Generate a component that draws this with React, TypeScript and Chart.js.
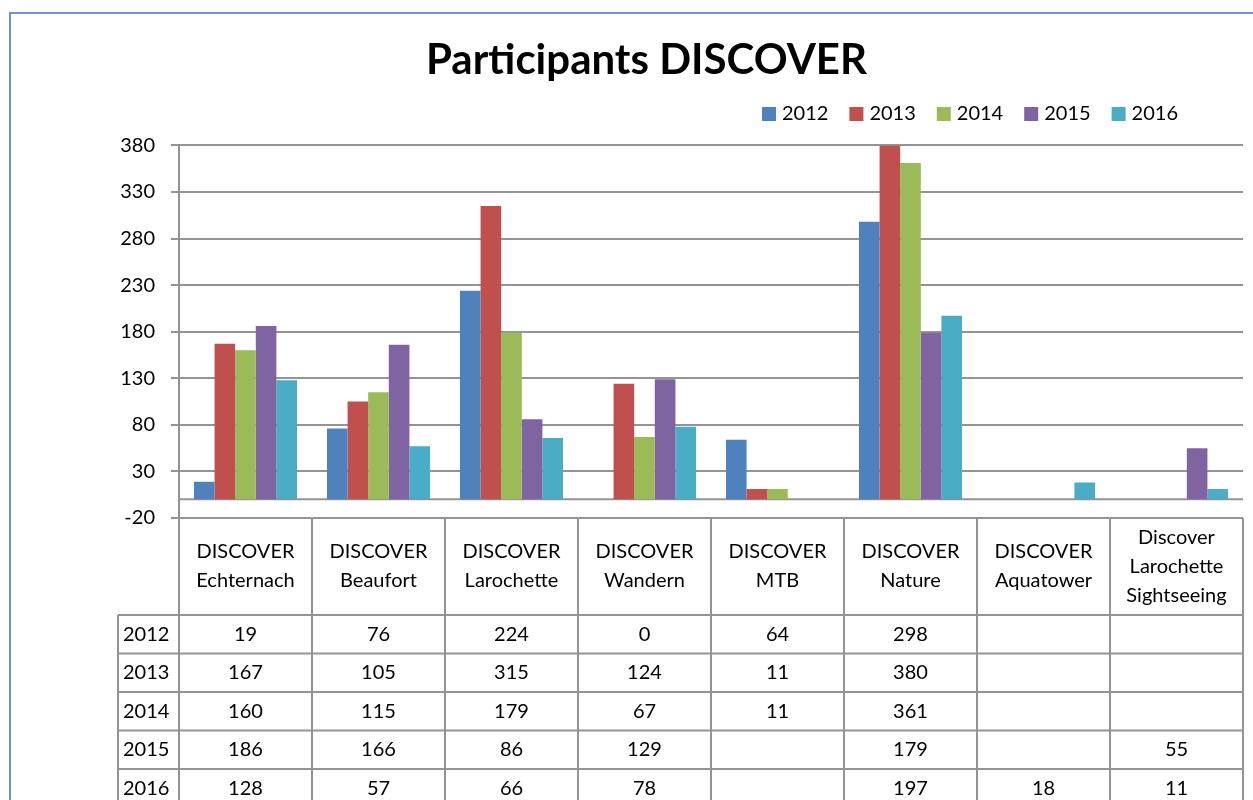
import React, { useEffect, useRef } from 'react';
import { Chart, registerables } from 'chart.js';

Chart.register(...registerables);

const categories: string[][] = [
  ['DISCOVER', 'Echternach'],
  ['DISCOVER', 'Beaufort'],
  ['DISCOVER', 'Larochette'],
  ['DISCOVER', 'Wandern'],
  ['DISCOVER', 'MTB'],
  ['DISCOVER', 'Nature'],
  ['DISCOVER', 'Aquatower'],
  ['Discover', 'Larochette', 'Sightseeing'],
];
const years = ['2012', '2013', '2014', '2015', '2016'];
const v2012 = [19, 76, 224, 0, 64, 298, null, null];
const v2013 = [167, 105, 315, 124, 11, 380, null, null];
const v2014 = [160, 115, 179, 67, 11, 361, null, null];
const v2015 = [186, 166, 86, 129, null, 179, null, 55];
const v2016 = [128, 57, 66, 78, null, 197, 18, 11];
const seriesValues = [v2012, v2013, v2014, v2015, v2016];
const colors = ['#4F81BD', '#C0504D', '#9BBB59', '#8064A2', '#4BACC6'];
const yMin = -20;
const yMax = 380;
const yStep = 50;

const FONT = 'Lato, "DejaVu Sans", sans-serif';
const GRID = '#949494';
const TEXT_SIZE = 20;

const decorPlugin = {
  id: 'decor',
  beforeDraw(chart: any) {
    const ctx = chart.ctx;
    ctx.save();
    ctx.fillStyle = '#ffffff';
    ctx.fillRect(0, 0, chart.width, chart.height);
    ctx.strokeStyle = '#6d95c9';
    ctx.lineWidth = 2;
    ctx.strokeRect(10, 13, chart.width + 100, chart.height + 100);
    ctx.restore();
  },
  beforeDatasetsDraw(chart: any) {
    const ctx = chart.ctx;
    const y = chart.scales.y;
    const area = chart.chartArea;
    const y0 = y.getPixelForValue(0);
    ctx.save();
    ctx.strokeStyle = GRID;
    ctx.lineWidth = 2;
    ctx.beginPath();
    ctx.moveTo(area.left, y0);
    ctx.lineTo(area.right, y0);
    ctx.stroke();
    ctx.restore();
  },
  afterDraw(chart: any) {
    const ctx = chart.ctx;
    const x = chart.scales.x;
    const area = chart.chartArea;
    const n = chart.data.labels.length;
    const catW = x.getPixelForValue(1) - x.getPixelForValue(0);
    const headerTop = area.bottom;
    const headerBottom = headerTop + 97;
    const rowH = 38.5;
    const labelLeft = 118;
    const nRows = chart.data.datasets.length;
    const tableBottom = headerBottom + rowH * nRows;

    ctx.save();
    ctx.strokeStyle = GRID;
    ctx.lineWidth = 2;
    for (let i = 0; i <= n; i++) {
      const cx = i < n ? x.getPixelForValue(i) - catW / 2 : x.getPixelForValue(n - 1) + catW / 2;
      ctx.beginPath();
      ctx.moveTo(cx, headerTop);
      ctx.lineTo(cx, tableBottom);
      ctx.stroke();
    }
    ctx.beginPath();
    ctx.moveTo(labelLeft, headerBottom);
    ctx.lineTo(labelLeft, tableBottom);
    ctx.stroke();
    for (let r = 0; r <= nRows; r++) {
      const yy = headerBottom + r * rowH;
      ctx.beginPath();
      ctx.moveTo(labelLeft, yy);
      ctx.lineTo(area.right, yy);
      ctx.stroke();
    }

    ctx.fillStyle = '#000000';
    ctx.font = `${TEXT_SIZE}px ${FONT}`;
    ctx.textBaseline = 'middle';
    ctx.textAlign = 'center';
    const lineH = 29;
    const hc = (headerTop + headerBottom) / 2;
    chart.data.labels.forEach((lab: string[], i: number) => {
      const cx = x.getPixelForValue(i);
      const start = hc - ((lab.length - 1) * lineH) / 2;
      lab.forEach((t, k) => ctx.fillText(t, cx, start + k * lineH));
    });
    chart.data.datasets.forEach((ds: any, r: number) => {
      const cy = headerBottom + r * rowH + rowH / 2;
      ctx.textAlign = 'left';
      ctx.fillText(ds.label, labelLeft + 5, cy);
      ctx.textAlign = 'center';
      ds.data.forEach((v: number | null, i: number) => {
        if (v === null || v === undefined) return;
        ctx.fillText(String(v), x.getPixelForValue(i), cy);
      });
    });

    // legend
    let lx = 762;
    const ly = 114;
    chart.data.datasets.forEach((ds: any) => {
      ctx.fillStyle = ds.backgroundColor;
      ctx.fillRect(lx, ly - 7, 14, 14);
      ctx.fillStyle = '#000000';
      ctx.textAlign = 'left';
      ctx.fillText(ds.label, lx + 20, ly);
      lx += 20 + ctx.measureText(ds.label).width + 21;
    });
    ctx.restore();
  },
};

export default function App() {
  const ref = useRef<HTMLCanvasElement | null>(null);
  useEffect(() => {
    if (!ref.current) return;
    const chart = new Chart(ref.current, {
      type: 'bar',
      data: {
        labels: categories as any,
        datasets: years.map((yr, i) => ({
          label: yr,
          data: seriesValues[i] as any,
          backgroundColor: colors[i],
          borderWidth: 0,
          categoryPercentage: 0.775,
          barPercentage: 1.0,
        })),
      },
      options: {
        responsive: false,
        animation: false,
        devicePixelRatio: 1,
        layout: { padding: { left: 50, right: 50, top: 0, bottom: 282 } },
        plugins: {
          legend: { display: false },
          tooltip: { enabled: false },
          title: {
            display: true,
            text: 'Participants DISCOVER',
            color: '#000000',
            font: { family: FONT, size: 42, weight: 'bold', lineHeight: 1.2 },
            padding: { top: 35, bottom: 60 },
          },
        },
        scales: {
          x: {
            display: false,
            grid: { display: false },
          },
          y: {
            min: yMin,
            max: yMax,
            afterFit(scale: any) {
              scale.width = 129;
            },
            ticks: {
              stepSize: yStep,
              color: '#000000',
              padding: 16,
              font: { family: FONT, size: TEXT_SIZE },
            },
            grid: {
              color: GRID,
              lineWidth: 2,
              tickLength: 8,
            },
            border: { display: true, color: GRID, width: 2 },
          },
        },
      },
      plugins: [decorPlugin],
    });
    return () => chart.destroy();
  }, []);
  return (
    <div
      style={{
        position: 'fixed',
        left: 0,
        top: 0,
        width: 1253,
        height: 800,
        overflow: 'hidden',
        background: '#ffffff',
      }}
    >
      <canvas ref={ref} width={1293} height={800} style={{ width: 1293, height: 800, display: 'block' }} />
    </div>
  );
}
